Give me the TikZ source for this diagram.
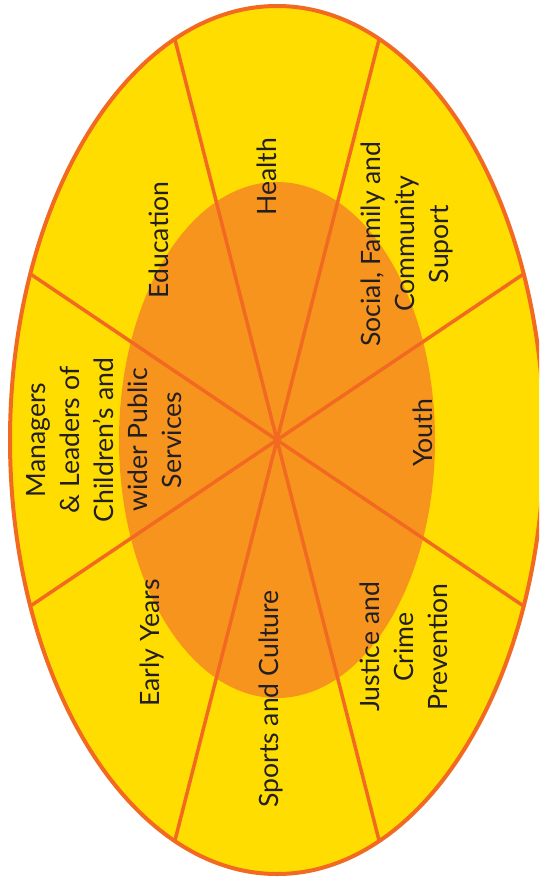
\documentclass[tikz,border=0pt]{standalone}
\usepackage{fontspec}
\setmainfont{Lato}
\usetikzlibrary{calc}
\definecolor{yel}{HTML}{FFDD00}
\definecolor{org}{HTML}{F7941D}
\definecolor{lin}{HTML}{F26A21}
\definecolor{txt}{HTML}{231F20}
\begin{document}
\begin{tikzpicture}[x=1pt,y=1pt,
  lbl/.style={rotate=90, align=center, text=txt, inner sep=0pt,
    font=\fontsize{26.6}{34}\selectfont},
  divider/.style={draw=lin, line width=3.5pt},
  rim/.style={draw=lin, line width=4pt}]
\useasboundingbox (0,0) rectangle (539,-886);
\clip (0,0) rectangle (539,-886);
\coordinate (c) at (277,-440);
\fill[yel] (c) ellipse [x radius=267, y radius=434];
\fill[org] (c) ellipse [x radius=158, y radius=258];
\foreach \i in {0,...,7}
  \coordinate (e\i) at ($(c)+({267*cos(22.5+45*\i)},{434*sin(22.5+45*\i)})$);
\draw[divider] (e0) -- (e4);
\draw[divider] (e1) -- (e5);
\draw[divider] (e2) -- (e6);
\draw[divider] (e3) -- (e7);
\draw[rim] (c) ellipse [x radius=267, y radius=434];
\node[lbl] (health) at (267,-177) {Health};
\node[lbl] (edu) at (159,-240) {Education};
\node[lbl] (social) at (407,-244) {Social, Family and\\Community\\Suport};
\node[lbl] (mgr) at (104,-440) {Managers\\\& Leaders of\\Children’s and\\wider Public\\Services};
\node[lbl] (youth) at (423,-433) {Youth};
\node[lbl] (early) at (152,-643) {Early Years};
\node[lbl] (sports) at (271,-699) {Sports and Culture};
\node[lbl] (justice) at (404,-647) {Justice and\\Crime\\Prevention};
\end{tikzpicture}
\end{document}
